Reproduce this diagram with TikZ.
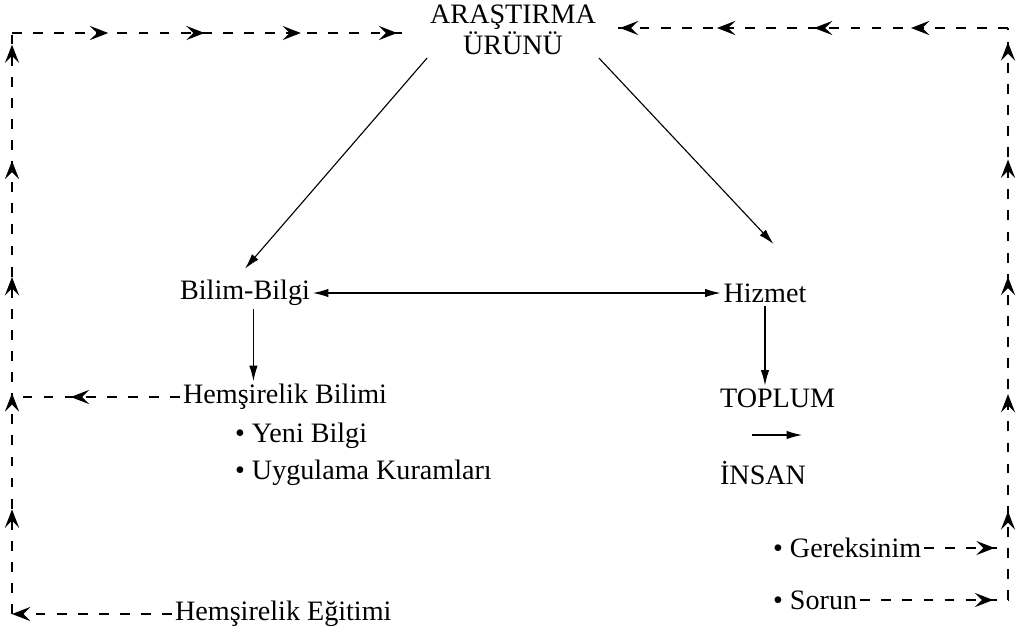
\documentclass[tikz,border=0pt]{standalone}
\usepackage{fontspec}
\setmainfont{Liberation Serif}
\usetikzlibrary{arrows.meta,decorations.markings}

\begin{document}
\begin{tikzpicture}
    [
    x=0.025cm, y=-0.025cm,
    every node/.style={font=\fontsize{20}{22}\selectfont, inner sep=2pt},
    arrow/.style={->, >={Latex[length=11pt,width=6pt]}, thick},
    flow/.style={line width=1.7pt, dash pattern=on 7pt off 8pt},
    tips/.style={postaction={decorate}, decoration={markings, mark=between positions #1 with {\pgfsetdash{}{0pt}\arrow{Stealth[length=13pt,width=10pt,inset=5pt]}}}},
    tipat/.style={postaction={decorate}, decoration={markings, mark=at position #1 with {\pgfsetdash{}{0pt}\arrow{Stealth[length=13pt,width=10pt,inset=5pt]}}}}
    ]
    \useasboundingbox (0,0) rectangle (1024,640);

% Product at the top
    \node[align=center] (arastirma) at (513,30) {ARAŞTIRMA\\ÜRÜNÜ};

% Left branch
    \node (bilim) at (245,293) {Bilim-Bilgi};
    \node[anchor=west] (hbilimi) at (180,397) {Hemşirelik Bilimi};
    \node[anchor=west] (yeni) at (232,436) {• Yeni Bilgi};
    \node[anchor=west] (uygulama) at (232,473) {• Uygulama Kuramları};
    \node[anchor=west] (egitim) at (172,614) {Hemşirelik Eğitimi};

% Right branch
    \node (hizmet) at (765,293) {Hizmet};
    \node[anchor=west] (toplum) at (717,398) {TOPLUM};
    \node[anchor=west] (insan) at (717,473) {İNSAN};
    \node[anchor=west] (gereksinim) at (770,548) {• Gereksinim};
    \node[anchor=west] (sorun) at (770,600) {• Sorun};

% Corners of the loop
    \coordinate (tl) at (12,33);
    \coordinate (bl) at (12,614);
    \coordinate (tr) at (1008,28);
    \coordinate (br) at (1008,600);
    \coordinate (ta) at (405,33);
    \coordinate (tb) at (612,28);
    \coordinate (pa) at (752,435);
    \coordinate (pb) at (802,435);

% Solid arrows
    \draw[arrow] (arastirma.south west) -- ([yshift=6pt]bilim.north);
    \draw[arrow] (arastirma.south east) -- ([xshift=6pt,yshift=26pt]hizmet.north);
    \draw[arrow, <->] (bilim.east) -- (hizmet.west);
    \draw[arrow] ([xshift=6pt]bilim.south) -- ([xshift=6pt]bilim.south |- hbilimi.north);
    \draw[arrow] (hizmet.south) -- (hizmet.south |- toplum.north);
    \draw[arrow] (pa) -- (pb);

% Dashed feedback
    \draw[flow, tipat=0.65] (hbilimi.west) -- (hbilimi.west -| tl);
    \draw[flow, tipat=1] (egitim.west) -- (bl);
    \draw[flow, tips={0.18 and 1 step 0.2}] (bl) -- (tl);
    \draw[flow, tips={0.245 and 1 step 0.245}] (tl) -- (ta);
    \draw[flow, tipat=0.84] (gereksinim.east) -- (gereksinim.east -| br);
    \draw[flow, tipat=0.9] (sorun.east) -- (br);
    \draw[flow, tips={0.155 and 1 step 0.205}] (br) -- (tr);
    \draw[flow, tips={0.245 and 1 step 0.245}] (tr) -- (tb);

\end{tikzpicture}
\end{document}
